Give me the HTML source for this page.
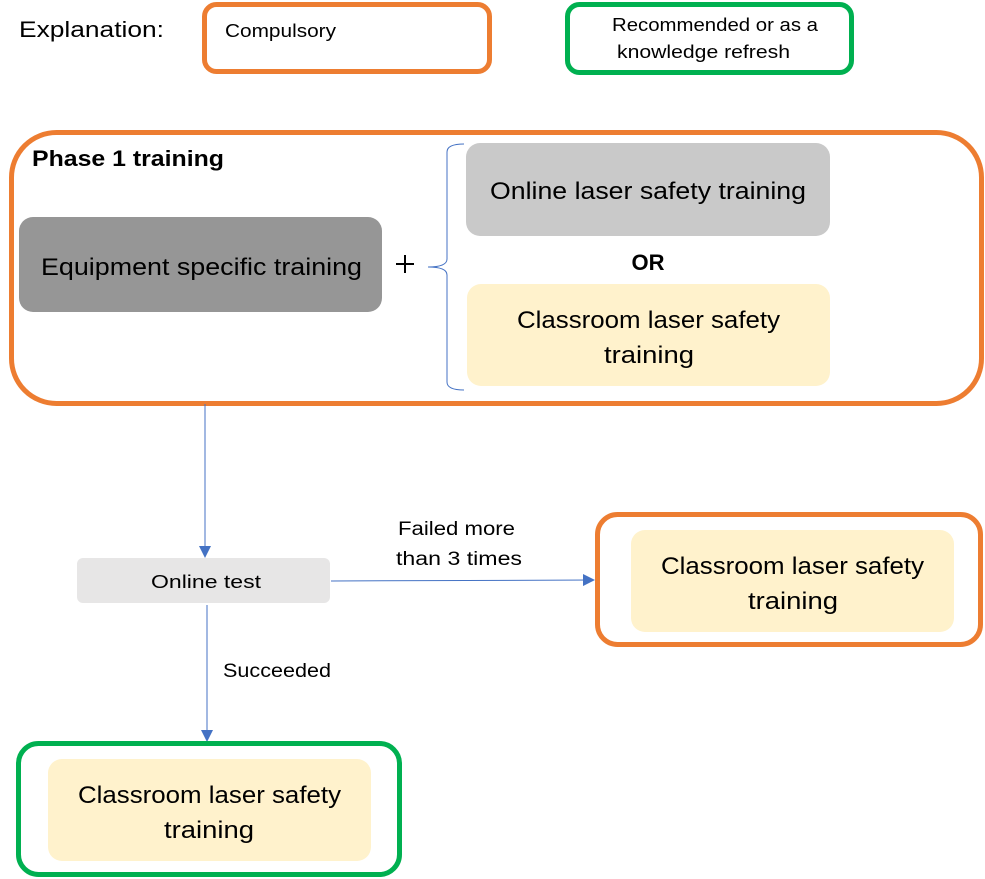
<!DOCTYPE html>
<html><head><meta charset="utf-8"><style>html,body{margin:0;padding:0;background:#fff}svg{display:block}text{font-family:"Liberation Sans",sans-serif;fill:#000}</style></head>
<body>
<svg width="985" height="879" viewBox="0 0 985 879" xmlns="http://www.w3.org/2000/svg">
<defs><marker id="a" markerWidth="12" markerHeight="12" refX="11" refY="6" orient="auto" markerUnits="userSpaceOnUse"><path d="M0,0 L12,6 L0,12 z" fill="#4472C4"/></marker></defs>
<text x="19" y="37" font-size="22" textLength="145" lengthAdjust="spacingAndGlyphs">Explanation:</text>
<rect x="204.5" y="4.5" width="285" height="67" rx="12" fill="#fff" stroke="#ED7D31" stroke-width="5"/>
<text x="225" y="37" font-size="18" textLength="111" lengthAdjust="spacingAndGlyphs">Compulsory</text>
<rect x="567.5" y="4.5" width="284" height="68" rx="12" fill="#fff" stroke="#00B050" stroke-width="5"/>
<text x="612" y="31" font-size="18" textLength="206" lengthAdjust="spacingAndGlyphs">Recommended or as a</text>
<text x="617" y="58" font-size="18" textLength="173" lengthAdjust="spacingAndGlyphs">knowledge refresh</text>

<rect x="11.5" y="132.5" width="970" height="271" rx="45" fill="#fff" stroke="#ED7D31" stroke-width="5"/>
<text x="32" y="166" font-size="22" font-weight="bold" textLength="192" lengthAdjust="spacingAndGlyphs">Phase 1 training</text>
<rect x="19" y="217" width="363" height="95" rx="14" fill="#969696"/>
<text x="41" y="275" font-size="24" textLength="321" lengthAdjust="spacingAndGlyphs">Equipment specific training</text>
<line x1="396" y1="264" x2="414" y2="264" stroke="#000" stroke-width="2"/>
<line x1="405" y1="255" x2="405" y2="273" stroke="#000" stroke-width="2"/>
<path d="M464,144 Q447,144 447,152 L447,259 Q447,267 428,267 Q447,267 447,275 L447,382 Q447,390 464,390" fill="none" stroke="#4472C4" stroke-width="1"/>
<rect x="466" y="143" width="364" height="93" rx="14" fill="#C9C9C9"/>
<text x="490" y="199" font-size="24" textLength="316" lengthAdjust="spacingAndGlyphs">Online laser safety training</text>
<text x="648" y="270" font-size="22" font-weight="bold" text-anchor="middle">OR</text>
<rect x="467" y="284" width="363" height="102" rx="14" fill="#FFF2CC"/>
<text x="517" y="328" font-size="24" textLength="263" lengthAdjust="spacingAndGlyphs">Classroom laser safety</text>
<text x="604" y="363" font-size="24" textLength="90" lengthAdjust="spacingAndGlyphs">training</text>

<line x1="205" y1="404" x2="205" y2="557" stroke="#4472C4" stroke-width="1" marker-end="url(#a)"/>
<rect x="77" y="558" width="253" height="45" rx="6" fill="#E7E6E6"/>
<text x="151" y="588" font-size="18" textLength="110" lengthAdjust="spacingAndGlyphs">Online test</text>
<line x1="331" y1="581" x2="594" y2="580" stroke="#4472C4" stroke-width="1" marker-end="url(#a)"/>
<text x="398" y="535" font-size="19" textLength="117" lengthAdjust="spacingAndGlyphs">Failed more</text>
<text x="396" y="565" font-size="19" textLength="126" lengthAdjust="spacingAndGlyphs">than 3 times</text>
<line x1="207" y1="605" x2="207" y2="741" stroke="#4472C4" stroke-width="1" marker-end="url(#a)"/>
<text x="223" y="677" font-size="19" textLength="108" lengthAdjust="spacingAndGlyphs">Succeeded</text>

<rect x="597.5" y="514.5" width="383" height="130" rx="20" fill="#fff" stroke="#ED7D31" stroke-width="5"/>
<rect x="631" y="530" width="323" height="102" rx="14" fill="#FFF2CC"/>
<text x="661" y="574" font-size="24" textLength="263" lengthAdjust="spacingAndGlyphs">Classroom laser safety</text>
<text x="748" y="609" font-size="24" textLength="90" lengthAdjust="spacingAndGlyphs">training</text>

<rect x="18.5" y="743.5" width="381" height="131" rx="20" fill="#fff" stroke="#00B050" stroke-width="5"/>
<rect x="48" y="759" width="323" height="102" rx="14" fill="#FFF2CC"/>
<text x="78" y="803" font-size="24" textLength="263" lengthAdjust="spacingAndGlyphs">Classroom laser safety</text>
<text x="164" y="838" font-size="24" textLength="90" lengthAdjust="spacingAndGlyphs">training</text>
</svg>
</body></html>
